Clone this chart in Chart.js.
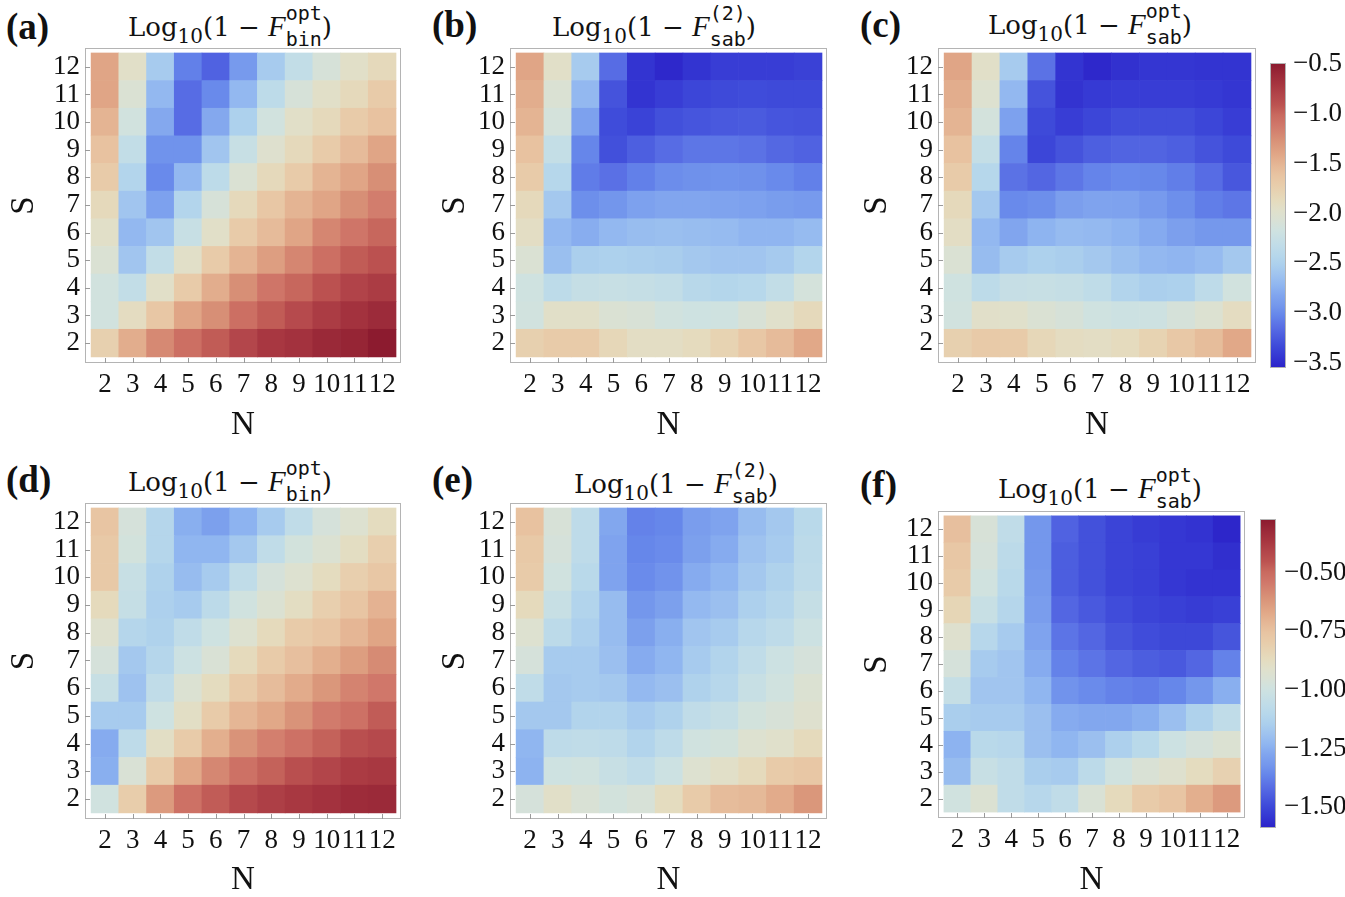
<!DOCTYPE html>
<html>
<head>
<meta charset="utf-8">
<script src="https://cdn.jsdelivr.net/npm/chart.js@4.4.0/dist/chart.umd.min.js"></script>
<style>
  body { margin: 0; background: #fff; width: 1345px; height: 897px; position: relative; overflow: hidden; }
  canvas { position: absolute; }
  .lbl { position: absolute; font-family: 'Liberation Serif', serif; font-weight: bold; font-size: 37px; line-height: 37px; color: #111; }
  .ttl { position: absolute; font-family: 'DejaVu Serif', serif; font-size: 26px; line-height: 26px; white-space: nowrap; transform: translateX(-50%); color: #111; }
  .ttl .ls { font-size: 20px; position: relative; top: 7px; }
  .ttl i { font-family: 'Liberation Serif', serif; font-size: 29px; }
  .ttl .up, .ttl .dn { font-family: 'DejaVu Sans Mono', monospace; font-size: 20px; position: relative; }
  .ttl .up { top: -16px; }
  .ttl .dn { top: 10px; margin-left: -3ch; }
</style>
</head>
<body>

<div class="lbl" style="left:6px;top:8px">(a)</div>
<div class="lbl" style="left:432px;top:6px">(b)</div>
<div class="lbl" style="left:860px;top:6px">(c)</div>
<div class="lbl" style="left:6px;top:461px">(d)</div>
<div class="lbl" style="left:432px;top:461px">(e)</div>
<div class="lbl" style="left:860px;top:466px">(f)</div>

<div class="ttl" style="left:230px;top:13px">Log<span class="ls">10</span>(1 − <i>F</i><span class="up">opt</span><span class="dn">bin</span>)</div>
<div class="ttl" style="left:654px;top:13px">Log<span class="ls">10</span>(1 − <i>F</i><span class="up">(2)</span><span class="dn">sab</span>)</div>
<div class="ttl" style="left:1090px;top:11px">Log<span class="ls">10</span>(1 − <i>F</i><span class="up">opt</span><span class="dn">sab</span>)</div>
<div class="ttl" style="left:230px;top:468px">Log<span class="ls">10</span>(1 − <i>F</i><span class="up">opt</span><span class="dn">bin</span>)</div>
<div class="ttl" style="left:676px;top:470px">Log<span class="ls">10</span>(1 − <i>F</i><span class="up">(2)</span><span class="dn">sab</span>)</div>
<div class="ttl" style="left:1100px;top:475px">Log<span class="ls">10</span>(1 − <i>F</i><span class="up">opt</span><span class="dn">sab</span>)</div>

<canvas id="pa" width="410" height="405" style="left:0px;top:40px"></canvas>
<canvas id="pb" width="405" height="405" style="left:431px;top:40px"></canvas>
<canvas id="pc" width="412" height="405" style="left:853px;top:40px"></canvas>
<canvas id="cbTop" width="83" height="345" style="left:1262px;top:40px"></canvas>
<canvas id="pd" width="410" height="402" style="left:0px;top:495px"></canvas>
<canvas id="pe" width="405" height="402" style="left:431px;top:495px"></canvas>
<canvas id="pf" width="401" height="402" style="left:853px;top:495px"></canvas>
<canvas id="cbBottom" width="93" height="402" style="left:1252px;top:495px"></canvas>

<script>
// Achsen
const N = [2, 3, 4, 5, 6, 7, 8, 9, 10, 11, 12];
const S = [2, 3, 4, 5, 6, 7, 8, 9, 10, 11, 12];

// Farbskalen (Bereich der Farbbalken)
const topRange = [-3.55, -0.49];
const bottomRange = [-1.59, -0.27];
const topCbTicks = [-3.5, -3.0, -2.5, -2.0, -1.5, -1.0, -0.5];
const bottomCbTicks = [-1.5, -1.25, -1.0, -0.75, -0.5];

// Zeilen: S = 2 ... 12, Spalten: N = 2 ... 12
const binOptA = [
  [-1.75, -1.45, -1.22, -1.05, -0.95, -0.82, -0.72, -0.68, -0.60, -0.57, -0.50],
  [-2.15, -1.90, -1.65, -1.40, -1.25, -1.05, -0.95, -0.85, -0.75, -0.68, -0.62],
  [-2.15, -2.30, -1.95, -1.70, -1.45, -1.25, -1.10, -1.00, -0.90, -0.80, -0.75],
  [-2.05, -2.60, -2.30, -1.95, -1.70, -1.50, -1.35, -1.20, -1.05, -0.95, -0.90],
  [-1.95, -2.70, -2.60, -2.25, -1.95, -1.70, -1.55, -1.40, -1.20, -1.10, -1.00],
  [-1.85, -2.60, -2.85, -2.45, -2.10, -1.85, -1.65, -1.50, -1.40, -1.25, -1.15],
  [-1.70, -2.45, -3.00, -2.70, -2.35, -2.05, -1.85, -1.70, -1.50, -1.40, -1.25],
  [-1.60, -2.30, -2.95, -2.95, -2.60, -2.25, -2.00, -1.85, -1.70, -1.55, -1.40],
  [-1.50, -2.15, -2.80, -3.15, -2.80, -2.50, -2.15, -1.95, -1.85, -1.70, -1.60],
  [-1.40, -2.05, -2.70, -3.15, -3.00, -2.70, -2.35, -2.10, -1.95, -1.85, -1.70],
  [-1.40, -1.95, -2.55, -3.05, -3.20, -2.90, -2.55, -2.30, -2.10, -1.95, -1.85]
];
const sab2B = [
  [-1.75, -1.70, -1.70, -1.83, -1.92, -1.92, -1.88, -1.78, -1.65, -1.55, -1.42],
  [-2.15, -1.95, -1.95, -2.05, -2.08, -2.15, -2.18, -2.17, -2.08, -1.97, -1.85],
  [-2.17, -2.35, -2.27, -2.25, -2.27, -2.30, -2.40, -2.44, -2.41, -2.30, -2.12],
  [-2.05, -2.65, -2.52, -2.50, -2.52, -2.54, -2.58, -2.60, -2.60, -2.56, -2.45],
  [-1.92, -2.70, -2.77, -2.70, -2.66, -2.65, -2.66, -2.68, -2.72, -2.72, -2.68],
  [-1.85, -2.58, -2.97, -2.93, -2.85, -2.82, -2.82, -2.83, -2.85, -2.88, -2.90],
  [-1.70, -2.42, -3.07, -3.13, -3.05, -2.98, -2.96, -2.95, -2.96, -3.00, -3.05],
  [-1.60, -2.28, -3.02, -3.30, -3.22, -3.15, -3.10, -3.10, -3.12, -3.17, -3.20],
  [-1.50, -2.12, -2.85, -3.32, -3.37, -3.30, -3.27, -3.25, -3.24, -3.27, -3.28],
  [-1.45, -2.05, -2.70, -3.28, -3.45, -3.40, -3.35, -3.33, -3.32, -3.33, -3.33],
  [-1.40, -1.95, -2.55, -3.15, -3.45, -3.52, -3.45, -3.40, -3.40, -3.40, -3.38]
];
const sabOptC = [
  [-1.75, -1.68, -1.70, -1.83, -1.90, -1.92, -1.88, -1.78, -1.66, -1.56, -1.42],
  [-2.15, -1.96, -1.97, -2.05, -2.10, -2.17, -2.20, -2.19, -2.11, -2.03, -1.90],
  [-2.17, -2.35, -2.26, -2.25, -2.27, -2.33, -2.46, -2.52, -2.50, -2.34, -2.15],
  [-2.05, -2.67, -2.55, -2.50, -2.53, -2.58, -2.64, -2.70, -2.72, -2.68, -2.58],
  [-1.92, -2.70, -2.82, -2.73, -2.68, -2.69, -2.73, -2.79, -2.86, -2.92, -2.92],
  [-1.85, -2.58, -3.00, -2.97, -2.87, -2.83, -2.84, -2.90, -2.97, -3.06, -3.10],
  [-1.70, -2.42, -3.12, -3.18, -3.10, -3.03, -3.00, -3.01, -3.06, -3.15, -3.26],
  [-1.60, -2.28, -3.03, -3.35, -3.28, -3.22, -3.19, -3.19, -3.22, -3.28, -3.33],
  [-1.50, -2.13, -2.85, -3.33, -3.40, -3.35, -3.31, -3.31, -3.31, -3.35, -3.40],
  [-1.45, -2.02, -2.70, -3.28, -3.46, -3.42, -3.40, -3.40, -3.40, -3.42, -3.44],
  [-1.40, -1.95, -2.55, -3.12, -3.45, -3.52, -3.47, -3.44, -3.44, -3.45, -3.45]
];
const binOptD = [
  [-0.99, -0.80, -0.63, -0.52, -0.47, -0.42, -0.39, -0.37, -0.35, -0.33, -0.32],
  [-1.25, -0.95, -0.79, -0.67, -0.58, -0.52, -0.48, -0.44, -0.41, -0.38, -0.37],
  [-1.26, -1.07, -0.89, -0.79, -0.69, -0.61, -0.56, -0.52, -0.48, -0.44, -0.42],
  [-1.16, -1.16, -1.00, -0.89, -0.79, -0.71, -0.67, -0.61, -0.55, -0.52, -0.47],
  [-1.03, -1.19, -1.06, -0.94, -0.87, -0.79, -0.73, -0.68, -0.62, -0.57, -0.54],
  [-0.97, -1.17, -1.11, -1.01, -0.95, -0.86, -0.79, -0.74, -0.69, -0.64, -0.59],
  [-0.92, -1.11, -1.13, -1.06, -1.00, -0.93, -0.86, -0.79, -0.76, -0.71, -0.66],
  [-0.86, -1.04, -1.14, -1.16, -1.08, -0.99, -0.94, -0.88, -0.81, -0.76, -0.70],
  [-0.78, -1.03, -1.13, -1.21, -1.16, -1.06, -0.97, -0.93, -0.87, -0.81, -0.77],
  [-0.78, -0.98, -1.11, -1.23, -1.23, -1.17, -1.06, -0.98, -0.94, -0.88, -0.81],
  [-0.76, -0.97, -1.11, -1.25, -1.29, -1.24, -1.16, -1.06, -0.97, -0.93, -0.87]
];
const sab2E = [
  [-0.97, -0.90, -0.95, -0.98, -0.96, -0.87, -0.79, -0.73, -0.72, -0.68, -0.62],
  [-1.24, -1.00, -0.99, -1.03, -1.06, -1.01, -0.93, -0.90, -0.86, -0.79, -0.77],
  [-1.23, -1.07, -1.06, -1.07, -1.12, -1.07, -0.99, -0.98, -0.93, -0.91, -0.86],
  [-1.17, -1.17, -1.12, -1.12, -1.16, -1.13, -1.06, -1.04, -0.98, -0.96, -0.92],
  [-1.06, -1.17, -1.16, -1.17, -1.22, -1.20, -1.13, -1.10, -1.03, -0.99, -0.94],
  [-0.97, -1.16, -1.16, -1.20, -1.26, -1.23, -1.16, -1.12, -1.06, -1.01, -0.97],
  [-0.93, -1.08, -1.14, -1.21, -1.29, -1.25, -1.18, -1.16, -1.10, -1.07, -1.01],
  [-0.86, -1.03, -1.12, -1.21, -1.32, -1.29, -1.22, -1.20, -1.14, -1.11, -1.04],
  [-0.79, -0.99, -1.09, -1.28, -1.35, -1.33, -1.26, -1.23, -1.17, -1.13, -1.07],
  [-0.78, -0.97, -1.07, -1.28, -1.36, -1.35, -1.29, -1.26, -1.19, -1.16, -1.08],
  [-0.75, -0.96, -1.07, -1.27, -1.37, -1.36, -1.30, -1.28, -1.21, -1.17, -1.09]
];
const sabOptF = [
  [-0.99, -0.94, -1.06, -1.10, -1.06, -0.95, -0.86, -0.79, -0.76, -0.69, -0.63],
  [-1.21, -1.03, -1.06, -1.15, -1.16, -1.08, -0.99, -0.95, -0.92, -0.87, -0.82],
  [-1.24, -1.09, -1.10, -1.20, -1.23, -1.20, -1.14, -1.09, -1.01, -0.97, -0.94],
  [-1.15, -1.16, -1.16, -1.20, -1.26, -1.27, -1.27, -1.25, -1.20, -1.13, -1.06],
  [-1.04, -1.18, -1.18, -1.23, -1.33, -1.35, -1.37, -1.38, -1.36, -1.32, -1.25],
  [-0.97, -1.16, -1.18, -1.26, -1.37, -1.40, -1.43, -1.45, -1.46, -1.43, -1.37],
  [-0.92, -1.10, -1.16, -1.28, -1.40, -1.43, -1.47, -1.49, -1.50, -1.50, -1.47],
  [-0.84, -1.03, -1.11, -1.30, -1.43, -1.46, -1.49, -1.51, -1.52, -1.53, -1.52],
  [-0.79, -0.99, -1.09, -1.31, -1.45, -1.48, -1.51, -1.52, -1.54, -1.55, -1.55],
  [-0.77, -0.97, -1.08, -1.32, -1.45, -1.48, -1.51, -1.52, -1.54, -1.54, -1.56],
  [-0.74, -0.96, -1.06, -1.32, -1.44, -1.48, -1.51, -1.53, -1.54, -1.55, -1.58]
];

// Farbverlauf blau -> beige -> rot
const thermo = [
  [0.000, '#2b22c8'], [0.039, '#3538d3'], [0.072, '#3e4ad9'], [0.105, '#4c5ddf'],
  [0.138, '#5a70e5'], [0.171, '#6585ea'], [0.204, '#7497ec'], [0.237, '#80a4ee'],
  [0.270, '#8fb5f0'], [0.303, '#9ec2ef'], [0.336, '#abcfed'], [0.368, '#b6d7eb'],
  [0.401, '#c0dce8'], [0.451, '#cfe2e0'], [0.484, '#d9e1d5'], [0.516, '#e0e0cb'],
  [0.549, '#e5dbbd'], [0.599, '#e8cdab'], [0.632, '#e8c4a2'], [0.664, '#e5b796'],
  [0.697, '#e1a888'], [0.747, '#d89177'], [0.796, '#d0776a'], [0.829, '#c96a5f'],
  [0.862, '#bc5351'], [0.895, '#b2454a'], [0.928, '#a73640'], [0.961, '#9b2a39'],
  [1.000, '#8b1a2e']
];

function hexRgb(h) {
  return [parseInt(h.slice(1, 3), 16), parseInt(h.slice(3, 5), 16), parseInt(h.slice(5, 7), 16)];
}

function colorOf(v, range) {
  let t = (v - range[0]) / (range[1] - range[0]);
  t = Math.max(0, Math.min(1, t));
  for (let i = 1; i < thermo.length; i++) {
    if (t <= thermo[i][0]) {
      const [t0, c0] = thermo[i - 1];
      const [t1, c1] = thermo[i];
      const f = (t - t0) / (t1 - t0);
      const a = hexRgb(c0), b = hexRgb(c1);
      const rgb = a.map((x, k) => Math.round(x + (b[k] - x) * f));
      return `rgb(${rgb[0]}, ${rgb[1]}, ${rgb[2]})`;
    }
  }
  return thermo[thermo.length - 1][1];
}

function minus(v, digits) {
  return v.toFixed(digits).replace('-', '\u2212');
}

// Achsen sollen keinen Platz fuer ueberstehende Beschriftungen reservieren
function noEdgePadding(s) {
  s.paddingTop = 0;
  s.paddingBottom = 0;
  s.paddingLeft = 0;
  s.paddingRight = 0;
}

// Rahmen und nach innen zeigende Striche
const framePlugin = {
  id: 'frame',
  afterDraw(chart) {
    const { ctx, chartArea: a, scales } = chart;
    ctx.save();
    ctx.strokeStyle = '#b4b4b4';
    ctx.lineWidth = 1;
    ctx.strokeRect(a.left + 0.5, a.top + 0.5, a.right - a.left - 1, a.bottom - a.top - 1);
    if (chart.options.innerTicks) {
      ctx.strokeStyle = '#9a9a9a';
      ctx.beginPath();
      scales.x.ticks.forEach(t => {
        const px = Math.round(scales.x.getPixelForValue(t.value)) + 0.5;
        ctx.moveTo(px, a.bottom);
        ctx.lineTo(px, a.bottom - 5);
      });
      scales.y.ticks.forEach(t => {
        const py = Math.round(scales.y.getPixelForValue(t.value)) + 0.5;
        ctx.moveTo(a.left, py);
        ctx.lineTo(a.left + 5, py);
      });
      ctx.stroke();
    }
    ctx.restore();
  }
};

const tickFont = { family: 'Liberation Serif', size: 27 };
const axisFont = { family: 'Liberation Serif', size: 33 };

function heatmap(id, grid, range, box) {
  const datasets = S.map((s, r) => ({
    data: N.map(n => ({ x: n, y: [s - 0.5, s + 0.5] })),
    backgroundColor: grid[r].map(v => colorOf(v, range)),
    borderWidth: 0,
    grouped: false,
    categoryPercentage: 1,
    barPercentage: 1
  }));

  return new Chart(document.getElementById(id), {
    type: 'bar',
    data: { datasets },
    options: {
      responsive: false,
      animation: false,
      innerTicks: true,
      layout: { padding: { top: box.pt, right: box.pr, left: 0, bottom: 0 } },
      plugins: { legend: { display: false }, tooltip: { enabled: false } },
      scales: {
        x: {
          type: 'linear', min: 1.28, max: 12.68, offset: false,
          grid: { display: false, drawTicks: false },
          border: { display: false },
          afterBuildTicks: s => { s.ticks = N.map(v => ({ value: v })); },
          afterFit: s => { s.height = box.xh; noEdgePadding(s); },
          ticks: { font: tickFont, color: '#111', padding: 6, maxRotation: 0, autoSkip: false },
          title: { display: true, text: 'N', font: axisFont, color: '#111', padding: { top: 0, bottom: box.tb } }
        },
        y: {
          type: 'linear', min: 1.28, max: 12.68,
          grid: { display: false, drawTicks: false },
          border: { display: false },
          afterBuildTicks: s => { s.ticks = S.map(v => ({ value: v })); },
          afterFit: s => { s.width = box.yw; noEdgePadding(s); },
          ticks: { font: tickFont, color: '#111', padding: 5, autoSkip: false },
          title: { display: true, text: 'S', font: axisFont, color: '#111', padding: { top: 5, bottom: 0 } }
        }
      }
    },
    plugins: [framePlugin]
  });
}

function colorbar(id, range, tickVals, digits, box) {
  return new Chart(document.getElementById(id), {
    type: 'bar',
    data: {
      labels: ['bar'],
      datasets: [{
        data: [range],
        borderWidth: 0,
        categoryPercentage: 1,
        barPercentage: 1,
        backgroundColor: ctx => {
          const ch = ctx.chart, a = ch.chartArea;
          if (!a) return '#cccccc';
          const g = ch.ctx.createLinearGradient(0, a.bottom, 0, a.top);
          thermo.forEach(([t, c]) => g.addColorStop(t, c));
          return g;
        }
      }]
    },
    options: {
      responsive: false,
      animation: false,
      innerTicks: false,
      layout: { padding: { top: box.pt, left: box.pl, bottom: box.pb, right: 0 } },
      plugins: { legend: { display: false }, tooltip: { enabled: false } },
      scales: {
        x: { display: false },
        y: {
          position: 'right', min: range[0], max: range[1],
          grid: { display: false, drawTicks: false },
          border: { display: false },
          afterBuildTicks: s => { s.ticks = tickVals.map(v => ({ value: v })); },
          afterFit: s => { s.width = box.yw; noEdgePadding(s); },
          ticks: { font: tickFont, color: '#111', padding: box.tp, callback: v => minus(v, digits) }
        }
      }
    },
    plugins: [framePlugin]
  });
}

heatmap('pa', binOptA, topRange, { pt: 8, pr: 9, yw: 85, xh: 82, tb: 0 });
heatmap('pb', sab2B, topRange, { pt: 8, pr: 9, yw: 79, xh: 82, tb: 0 });
heatmap('pc', sabOptC, topRange, { pt: 8, pr: 9, yw: 85, xh: 82, tb: 0 });
heatmap('pd', binOptD, bottomRange, { pt: 8, pr: 9, yw: 85, xh: 78, tb: -3 });
heatmap('pe', sab2E, bottomRange, { pt: 8, pr: 9, yw: 79, xh: 78, tb: -3 });
heatmap('pf', sabOptF, bottomRange, { pt: 16, pr: 9, yw: 85, xh: 79, tb: -3 });

colorbar('cbTop', topRange, topCbTicks, 1, { pt: 23, pl: 8, pb: 17, yw: 59, tp: 7 });
colorbar('cbBottom', bottomRange, bottomCbTicks, 2, { pt: 24, pl: 8, pb: 69, yw: 69, tp: 8 });
</script>
</body>
</html>
